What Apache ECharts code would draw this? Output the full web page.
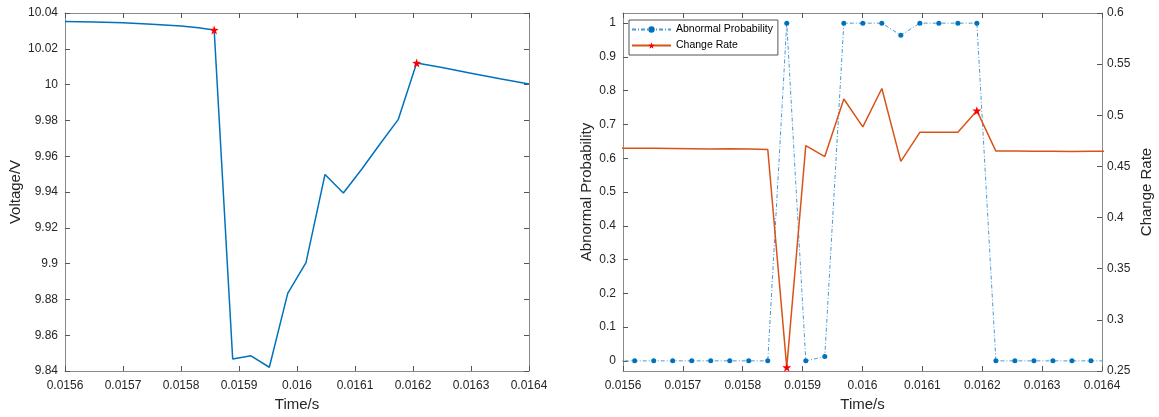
<!DOCTYPE html>
<html>
<head>
<meta charset="utf-8">
<script src="https://cdn.jsdelivr.net/npm/echarts@6/dist/echarts.min.js"></script>
<style>
html,body{margin:0;padding:0;background:#fff;}
#c{width:1159px;height:417px;}
</style>
</head>
<body>
<div id="c"></div>
<script>
// ---------- data ----------
const timeTicks = [0.0156, 0.0157, 0.0158, 0.0159, 0.016, 0.0161, 0.0162, 0.0163, 0.0164];
const voltageTicks = [9.84, 9.86, 9.88, 9.9, 9.92, 9.94, 9.96, 9.98, 10, 10.02, 10.04];
const probTicks = [0, 0.1, 0.2, 0.3, 0.4, 0.5, 0.6, 0.7, 0.8, 0.9, 1];
const rateTicks = [0.25, 0.3, 0.35, 0.4, 0.45, 0.5, 0.55, 0.6];

const leftTime = [0.0156, 0.01565, 0.0157, 0.01575, 0.0158, 0.01583, 0.0158572,
  0.0158891, 0.0159207, 0.0159523, 0.015984, 0.0160155, 0.0160483, 0.0160799,
  0.0161115, 0.0161431, 0.0161747, 0.0162063, 0.01625, 0.0163, 0.01635, 0.0164];
const voltage = [10.0352, 10.0350, 10.0345, 10.0337, 10.0327, 10.0317, 10.0305,
  9.8467, 9.8485, 9.8421, 9.8834, 9.9005, 9.9498, 9.9394,
  9.9527, 9.9668, 9.9806, 10.0121, 10.0095, 10.0064, 10.0033, 10.0003];
const voltageStarIdx = [6, 17];

const rightTime = [0.0155878, 0.0156195, 0.0156513, 0.0156830, 0.0157148, 0.0157465,
  0.0157783, 0.0158100, 0.0158418, 0.0158735, 0.0159053, 0.0159370, 0.0159688,
  0.0160005, 0.0160323, 0.0160640, 0.0160958, 0.0161275, 0.0161593, 0.0161910,
  0.0162228, 0.0162545, 0.0162863, 0.0163180, 0.0163498, 0.0163815, 0.0164133];
const abnormalProb = [0, 0, 0, 0, 0, 0, 0, 0, 0, 1, 0, 0.0127, 1, 1, 1, 0.964,
  1, 1, 1, 1, 0, 0, 0, 0, 0, 0, 0];
const changeRate = [0.4678, 0.4678, 0.4677, 0.4676, 0.4673, 0.4670, 0.4672, 0.4671,
  0.4666, 0.2536, 0.4703, 0.4596, 0.5159, 0.4886, 0.5262, 0.4550, 0.4833, 0.4834,
  0.4833, 0.5045, 0.4650, 0.4650, 0.4649, 0.4648, 0.4647, 0.4648, 0.4648];
const rateStarIdx = [9, 19];

// ---------- styling ----------
const FONT = "'Liberation Sans', Arial, Helvetica, sans-serif";
const TXT = '#262626';
const AXC = '#8a8a8a';
const STAR = 'path://M0,-10 L2.35,-3.24 L9.51,-3.09 L3.8,1.24 L5.88,8.09 L0,4 L-5.88,8.09 L-3.8,1.24 L-9.51,-3.09 L-2.35,-3.24 Z';
const fmt = v => String(parseFloat(v.toFixed(6)));

function axisCommon(show) {
  return {
    axisLine: {show: true, onZero: false, lineStyle: {color: AXC, width: 1}},
    axisTick: {show: true, inside: true, length: 5, lineStyle: {color: '#555', width: 1}},
    splitLine: {show: false},
    axisLabel: {show: show, color: TXT, fontSize: 12, fontFamily: FONT, formatter: fmt},
    nameTextStyle: {color: TXT, fontSize: 15, fontFamily: FONT}
  };
}
function xAx(grid, pos, show, name) {
  return Object.assign(axisCommon(show), {
    type: 'value', gridIndex: grid, position: pos,
    min: timeTicks[0], max: timeTicks[timeTicks.length - 1],
    interval: timeTicks[1] - timeTicks[0],
    name: name || '', nameLocation: 'middle', nameGap: 26
  });
}

const voltData = leftTime.map((t, i) => voltageStarIdx.includes(i)
  ? {value: [t, voltage[i]]}
  : {value: [t, voltage[i]], symbol: 'none'});
const probData = rightTime.map((t, i) => [t, abnormalProb[i]]);
const rateData = rightTime.map((t, i) => rateStarIdx.includes(i)
  ? {value: [t, changeRate[i]]}
  : {value: [t, changeRate[i]], symbol: 'none'});

const yLeft0 = Object.assign(axisCommon(true), {
  type: 'value', gridIndex: 0, position: 'left',
  min: voltageTicks[0], max: voltageTicks[voltageTicks.length - 1],
  interval: voltageTicks[1] - voltageTicks[0],
  name: 'Voltage/V', nameLocation: 'middle', nameGap: 42
});
yLeft0.axisLabel.margin = 7;
const yRight0 = Object.assign(axisCommon(false), {
  type: 'value', gridIndex: 0, position: 'right',
  min: voltageTicks[0], max: voltageTicks[voltageTicks.length - 1],
  interval: voltageTicks[1] - voltageTicks[0]
});
const yProb = Object.assign(axisCommon(true), {
  type: 'value', gridIndex: 1, position: 'left',
  min: -0.03, max: 1.03, splitNumber: 10,
  name: 'Abnormal Probability', nameLocation: 'middle', nameGap: 29
});
yProb.axisLabel.margin = 7;
yProb.axisLabel.showMinLabel = false;
yProb.axisLabel.showMaxLabel = false;
yProb.axisLabel.formatter = v => probTicks.some(p => Math.abs(p - v) < 1e-9) ? fmt(v) : '';
const yRate = Object.assign(axisCommon(true), {
  type: 'value', gridIndex: 1, position: 'right',
  min: rateTicks[0], max: rateTicks[rateTicks.length - 1],
  interval: rateTicks[1] - rateTicks[0],
  name: 'Change Rate', nameLocation: 'middle', nameGap: 37
});
yRate.axisLabel.margin = 5;

const xb0 = xAx(0, 'bottom', true, 'Time/s'); xb0.axisLabel.margin = 9;
const xb1 = xAx(1, 'bottom', true, 'Time/s'); xb1.axisLabel.margin = 9;

const option = {
  backgroundColor: '#fff',
  animation: false,
  grid: [
    {left: 65, top: 13, width: 464, height: 359},
    {left: 623, top: 13, width: 479, height: 359}
  ],
  xAxis: [xb0, xAx(0, 'top', false), xb1, xAx(1, 'top', false)],
  yAxis: [yLeft0, yRight0, yProb, yRate],
  legend: {
    show: true, orient: 'vertical', left: 629, top: 20,
    data: ['Abnormal Probability', 'Change Rate'],
    itemWidth: 39, itemHeight: 8, itemGap: 5,
    padding: [4, 5, 4, 2],
    borderColor: '#555', borderWidth: 1, backgroundColor: '#fff',
    textStyle: {color: '#000', fontSize: 10.5, fontFamily: FONT}
  },
  series: [
    {
      type: 'line', name: 'Voltage', xAxisIndex: 0, yAxisIndex: 0,
      data: voltData, symbol: STAR, symbolSize: 9, showSymbol: true,
      itemStyle: {color: '#FF0000'},
      lineStyle: {color: '#0072BD', width: 1.5},
      z: 3
    },
    {
      type: 'line', name: 'Abnormal Probability', xAxisIndex: 2, yAxisIndex: 2,
      data: probData, symbol: 'circle', symbolSize: 5, showSymbol: true,
      itemStyle: {color: '#0072BD'},
      lineStyle: {color: '#4a9ad6', width: 1, type: [4, 2, 1, 2]},
      z: 3
    },
    {
      type: 'line', name: 'Change Rate', xAxisIndex: 2, yAxisIndex: 3,
      data: rateData, symbol: STAR, symbolSize: 9, showSymbol: true,
      itemStyle: {color: '#FF0000'},
      lineStyle: {color: '#D95319', width: 1.5},
      z: 4
    }
  ]
};
const chart = echarts.init(document.getElementById('c'), null, {renderer: 'canvas'});
chart.setOption(option);
</script>
</body>
</html>
